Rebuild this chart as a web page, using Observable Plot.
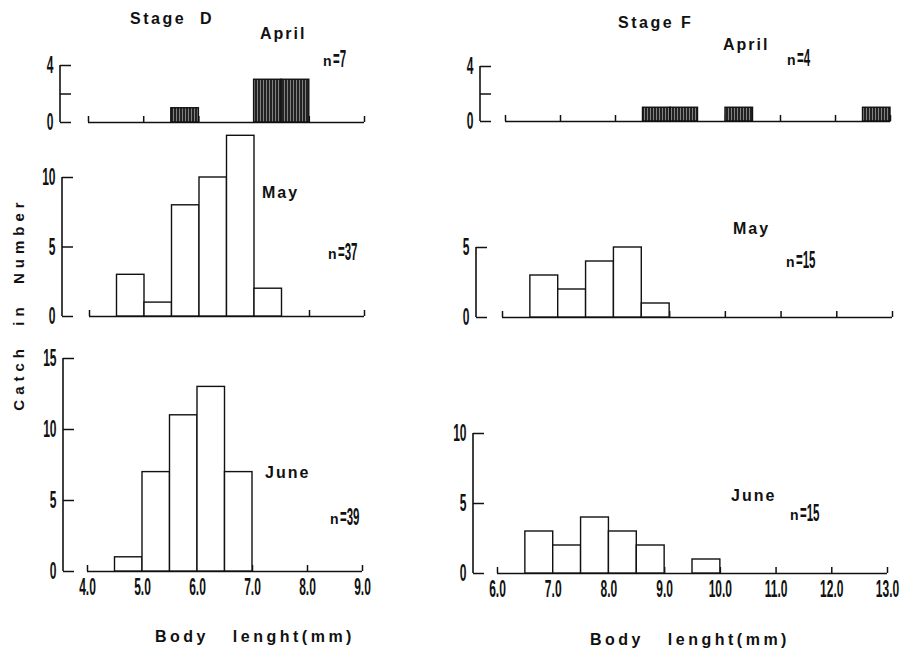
<!DOCTYPE html>
<html><head><meta charset="utf-8">
<script src="https://cdn.jsdelivr.net/npm/d3@7"></script>
<script src="https://cdn.jsdelivr.net/npm/@observablehq/plot@0.6"></script>
<style>
html,body{margin:0;padding:0;background:#fff;}
#wrap{position:relative;width:904px;height:652px;overflow:hidden;background:#fff;}
#wrap svg{position:absolute;left:0;top:0;}
.lbl{position:absolute;font-family:"Liberation Sans",Arial,sans-serif;font-weight:bold;font-size:16px;letter-spacing:2px;white-space:pre;color:#111;line-height:1;transform:translateY(-50%);}
.nn{font-size:14px;letter-spacing:1px;}
.cond{display:inline-block;font-weight:bold;font-size:23px;letter-spacing:0;transform:scaleX(0.5);transform-origin:left center;vertical-align:-1px;}
</style></head><body><div id="wrap"></div>
<script>
// ---------- data ----------
const binWidth = 0.5;
const xTicksD = [4, 5, 6, 7, 8, 9];
const xTicksF = [6, 7, 8, 9, 10, 11, 12, 13];

const dAprilStart = [5.5, 7.0, 7.5];
const dAprilCount = [1, 3, 3];
const dMayStart = [4.5, 5.0, 5.5, 6.0, 6.5, 7.0];
const dMayCount = [3, 1, 8, 10, 13, 2];
const dJuneStart = [4.5, 5.0, 5.5, 6.0, 6.5];
const dJuneCount = [1, 7, 11, 13, 7];

const fAprilStart = [8.5, 9.0, 10.0, 12.5];
const fAprilCount = [1, 1, 1, 1];
const fMayStart = [6.5, 7.0, 7.5, 8.0, 8.5];
const fMayCount = [3, 2, 4, 5, 1];
const fJuneStart = [6.5, 7.0, 7.5, 8.0, 8.5, 9.5];
const fJuneCount = [3, 2, 4, 3, 2, 1];

const yTicksApril = [0, 2, 4];
const yLabelsApril = [0, 4];
const yTicksDMay = [0, 5, 10];
const yTicksDJune = [0, 5, 10, 15];
const yTicksFMay = [0, 5];
const yTicksFJune = [0, 5, 10];

const stageNames = ["Stage  D", "Stage F"];
const monthNames = ["April", "May", "June"];
const nD = ["n", "=7", "n", "=37", "n", "=39"];
const nF = ["n", "=4", "n", "=15", "n", "=15"];
const yTitle = "Catch  in  Number";
const xTitle = "Body   lenght(mm)";

// ---------- layout (pixels) ----------
const W = 904, H = 652;
const INK = "#111";
const wrap = document.getElementById("wrap");

function condense(svg, k) {
  svg.querySelectorAll("text").forEach(t => {
    t.style.fontSize = "24px";
    t.style.fontWeight = "bold";
    t.style.fontFamily = "'Liberation Sans', Arial, sans-serif";
    const tr = t.getAttribute("transform");
    if (tr) t.setAttribute("transform", tr + ` scale(${k},1)`);
    else {
      const x = +t.getAttribute("x") || 0, y = +t.getAttribute("y") || 0;
      t.removeAttribute("x"); t.removeAttribute("y");
      t.setAttribute("transform", `translate(${x},${y}) scale(${k},1)`);
    }
  });
}

function axisLine(yMax) {
  return (index, scales, values, dims) => {
    const l = document.createElementNS("http://www.w3.org/2000/svg", "line");
    const x = dims.marginLeft;
    l.setAttribute("x1", x); l.setAttribute("x2", x);
    l.setAttribute("y1", scales.y(0)); l.setAttribute("y2", scales.y(yMax));
    l.setAttribute("stroke", INK); l.setAttribute("stroke-width", 1.6);
    return l;
  };
}

let pid = 0;
function panel({starts, counts, xTicks, yTicks, yLabels, axisAt, xRange, y0, yTop, xLabels, hatch}) {
  const id = "hatch" + (pid++);
  const data = starts.map((s, i) => ({a: s, b: s + binWidth, n: counts[i]}));
  const yMax = d3.max(yTicks);
  const labelled = yLabels || yTicks;
  const svg = Plot.plot({
    width: W, height: H,
    marginLeft: axisAt, marginRight: W - xRange[1], marginTop: yTop, marginBottom: H - y0,
    x: {domain: [xTicks[0], xTicks[xTicks.length - 1]], range: xRange, label: null},
    y: {domain: [0, yMax], label: null},
    style: {background: "transparent", color: INK, fontFamily: "'Liberation Sans', Arial, sans-serif",
      fontSize: "24px", overflow: "visible"},
    marks: [
      Plot.ruleY([0], {x1: xTicks[0], x2: xTicks[xTicks.length - 1], stroke: INK, strokeWidth: 1.6}),
      Plot.axisX({ticks: xTicks, tickSize: -6, tickPadding: 12, strokeWidth: 1.5,
        tickFormat: xLabels ? d3.format(".1f") : () => ""}),
      Plot.rect(data, {x1: "a", x2: "b", y1: d => 0, y2: "n",
        fill: hatch ? `url(#${id})` : "white", stroke: INK, strokeWidth: 1.4}),
      Plot.axisY({ticks: yTicks, tickSize: -11, tickPadding: 18, strokeWidth: 1.5,
        tickFormat: d => labelled.includes(d) ? String(d) : ""}),
      axisLine(yMax)
    ]
  });
  if (hatch) {
    const defs = d3.select(svg).insert("defs", ":first-child");
    const p = defs.append("pattern").attr("id", id).attr("patternUnits", "userSpaceOnUse")
      .attr("width", 3).attr("height", 4);
    p.append("rect").attr("width", 3).attr("height", 4).attr("fill", "#222");
    p.append("rect").attr("x", 2).attr("width", 0.7).attr("height", 4).attr("fill", "#aaa");
  }
  condense(svg, 0.5);
  wrap.appendChild(svg);
}

panel({starts: dAprilStart, counts: dAprilCount, xTicks: xTicksD, yTicks: yTicksApril, yLabels: yLabelsApril,
  axisAt: 60, xRange: [88, 364], y0: 122, yTop: 65, xLabels: false, hatch: true});
panel({starts: dMayStart, counts: dMayCount, xTicks: xTicksD, yTicks: yTicksDMay,
  axisAt: 62, xRange: [89, 364], y0: 316, yTop: 177, xLabels: false});
panel({starts: dJuneStart, counts: dJuneCount, xTicks: xTicksD, yTicks: yTicksDJune,
  axisAt: 63, xRange: [87, 362], y0: 571, yTop: 358, xLabels: true});
panel({starts: fAprilStart, counts: fAprilCount, xTicks: xTicksF, yTicks: yTicksApril, yLabels: yLabelsApril,
  axisAt: 480, xRange: [505, 890], y0: 121, yTop: 66, xLabels: false, hatch: true});
panel({starts: fMayStart, counts: fMayCount, xTicks: xTicksF, yTicks: yTicksFMay,
  axisAt: 476, xRange: [502, 892], y0: 317, yTop: 247, xLabels: false});
panel({starts: fJuneStart, counts: fJuneCount, xTicks: xTicksF, yTicks: yTicksFJune,
  axisAt: 473, xRange: [497, 887], y0: 573, yTop: 433, xLabels: true});

// ---------- text annotations ----------
function label(html, x, y, extra) {
  const d = document.createElement("div");
  d.className = "lbl";
  d.style.left = x + "px"; d.style.top = y + "px";
  if (extra) Object.assign(d.style, extra);
  d.innerHTML = html;
  wrap.appendChild(d);
  return d;
}
function nLabel(parts, i, x, y) {
  label(`<span class="nn">${parts[i]}</span><span class="cond">${parts[i + 1]}</span>`, x, y);
}
label(stageNames[0], 130, 19, {letterSpacing: "2.5px"});
label(stageNames[1], 618, 23, {letterSpacing: "2.5px"});

label(monthNames[0], 260, 34);
label(monthNames[1], 262, 193);
label(monthNames[2], 265, 473);
label(monthNames[0], 723, 45);
label(monthNames[1], 733, 229);
label(monthNames[2], 731, 496);

nLabel(nD, 0, 323, 59);
nLabel(nD, 2, 328, 252);
nLabel(nD, 4, 330, 517);
nLabel(nF, 0, 787, 58);
nLabel(nF, 2, 786, 260);
nLabel(nF, 4, 790, 513);

label(yTitle, 18, 304, {fontSize: "15px", letterSpacing: "5px", transform: "translate(-50%,-50%) rotate(-90deg)"});
label(xTitle, 155, 637, {letterSpacing: "3.5px"});
label(xTitle, 590, 640, {letterSpacing: "3.5px"});
</script>
</body></html>
